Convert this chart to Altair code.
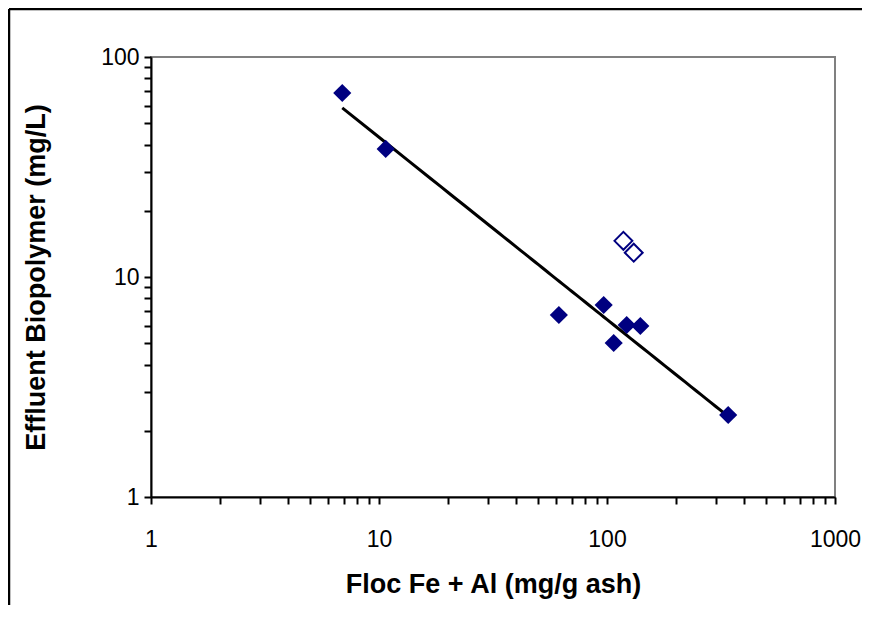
import altair as alt
import pandas as pd

# Filled points (measured) and open points (excluded from fit)
filled_x = [6.9, 10.7, 61.5, 96.7, 107, 122, 140, 340]
filled_y = [68.6, 38.2, 6.72, 7.46, 5.01, 6.05, 5.99, 2.36]
open_x = [118, 131]
open_y = [14.6, 12.9]

x_ticks = [1, 2, 3, 4, 5, 6, 7, 8, 9, 10, 20, 30, 40, 50, 60, 70, 80, 90,
           100, 200, 300, 400, 500, 600, 700, 800, 900, 1000]
y_ticks = [1, 2, 3, 4, 5, 6, 7, 8, 9, 10, 20, 30, 40, 50, 60, 70, 80, 90, 100]

W, H = 684, 440
PAD = {"left": 143, "top": 49, "right": 27, "bottom": 108}

df = pd.DataFrame({
    "x": filled_x + open_x,
    "y": filled_y + open_y,
    "kind": ["filled"] * len(filled_x) + ["open"] * len(open_x),
})

label_expr = "indexof([1,10,100,1000], datum.value) >= 0 ? format(datum.value, 'd') : ''"

xenc = alt.X("x:Q",
             scale=alt.Scale(type="log", domain=[1, 1000], nice=False),
             axis=alt.Axis(values=x_ticks, labelExpr=label_expr, labelOverlap=False,
                           labelFlush=False, labelPadding=24, titlePadding=20,
                           title="Floc Fe + Al (mg/g ash)"))
yenc = alt.Y("y:Q",
             scale=alt.Scale(type="log", domain=[1, 100], nice=False),
             axis=alt.Axis(values=y_ticks, labelExpr=label_expr, labelOverlap=False,
                           labelFlush=False, labelPadding=5, titlePadding=50,
                           title="Effluent Biopolymer (mg/L)"))

base = alt.Chart(df)

trend = base.transform_filter(alt.datum.kind == "filled").transform_regression(
    "x", "y", method="pow"
).mark_line(color="black", strokeWidth=3).encode(x=xenc, y=yenc)

pts_filled = base.transform_filter(alt.datum.kind == "filled").mark_point(
    shape="diamond", filled=True, color="#000080", size=330, opacity=1
).encode(x=xenc, y=yenc)

pts_open = base.transform_filter(alt.datum.kind == "open").mark_point(
    shape="diamond", filled=True, fill="white", stroke="#000080", strokeWidth=2,
    size=320, opacity=1
).encode(x=xenc, y=yenc)

one = pd.DataFrame({"a": [0]})
frame_top = alt.Chart(one).mark_rule(color="black", strokeWidth=2.5).encode(
    x=alt.value(-142), x2=alt.value(W + PAD["right"]), y=alt.value(-48)
)
frame_left = alt.Chart(one).mark_rule(color="black", strokeWidth=2.5).encode(
    x=alt.value(-142), y=alt.value(-48), y2=alt.value(H + PAD["bottom"])
)

chart = alt.layer(frame_top, frame_left, trend, pts_filled, pts_open).properties(
    width=W, height=H, autosize="none", padding=PAD,
).configure_view(
    stroke="#808080", strokeWidth=2
).configure_axis(
    domainColor="black", domainWidth=2, tickColor="black", tickWidth=2, tickSize=7,
    grid=False, labelFont="Liberation Sans", labelFontSize=23, labelColor="black",
    titleFont="Liberation Sans", titleFontSize=27, titleFontWeight="bold", titleColor="black"
)

chart.save("out.html", embed_options={"renderer": "svg", "actions": False})
